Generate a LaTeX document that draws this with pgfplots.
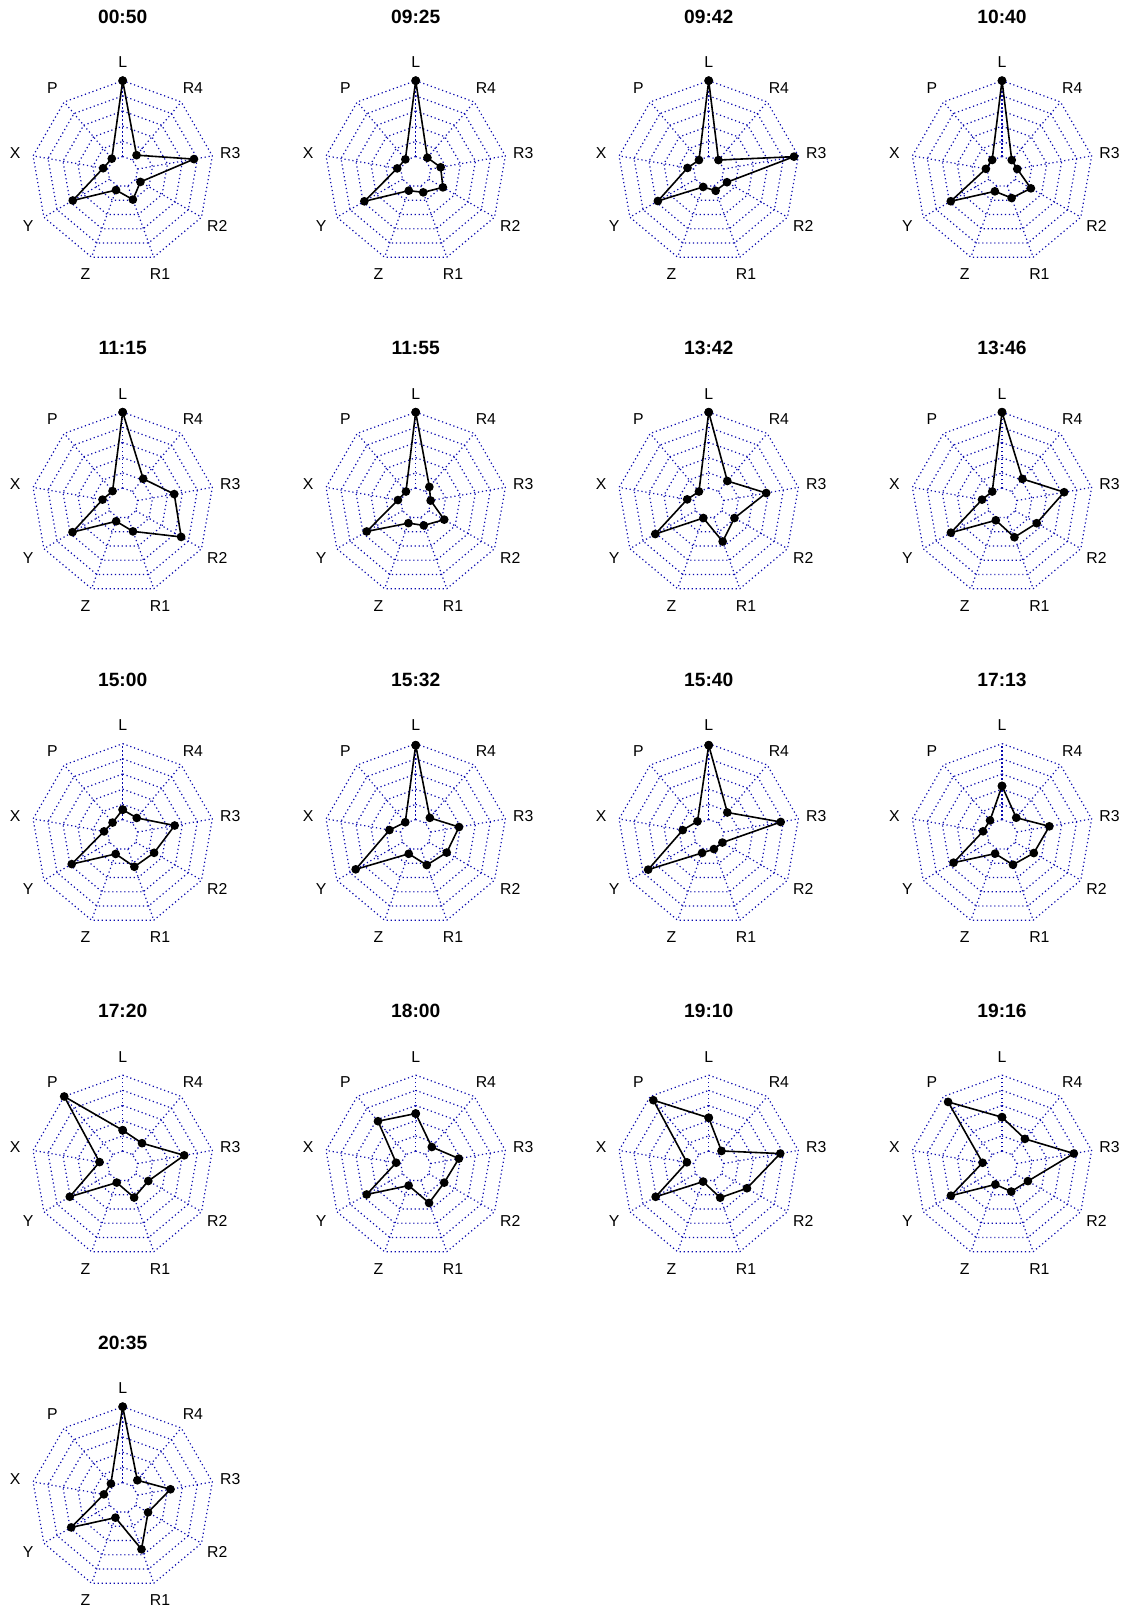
\documentclass[border=0pt]{standalone}
\usepackage{fontspec}
\setmainfont{Liberation Sans}
\usepackage{pgfplots}
\pgfplotsset{compat=1.18}
\definecolor{gridblue}{RGB}{10,10,175}
\pgfplotsset{
  radar/.style={hide axis, x=7.583pt, y=7.583pt, xmin=-8, xmax=8, ymin=-8, ymax=8,
    anchor=center, clip=false},
  gridline/.style={data cs=polar, gridblue, line width=0.6pt, dash pattern=on 0.6pt off 1.4pt, mark=none, forget plot},
  dataline/.style={data cs=polar, black, line width=0.8pt, mark=*, mark size=1.75pt,
    mark options={solid, fill=black, draw=black}},
}
\newcommand{\lbl}{\fontsize{7.9}{9}\selectfont}
\newcommand{\ttl}{\fontsize{9.6}{11}\selectfont\bfseries}
\newcommand{\radarframe}{%
  \pgfplotsinvokeforeach{1,2,3,4,5,6}{%
    \addplot[gridline] coordinates {(90,##1) (50,##1) (10,##1) (-30,##1) (-70,##1) (-110,##1) (-150,##1) (170,##1) (130,##1) (90,##1)};}
  \pgfplotsinvokeforeach{90,50,10,-30,-70,-110,-150,170,130}{%
    \addplot[gridline] coordinates {(##1,1) (##1,6)};}
  \node[font=\lbl] at (axis cs:0,7.2) {L};
  \node[font=\lbl] at (axis cs:4.628,5.516) {R4};
  \node[font=\lbl] at (axis cs:7.091,1.250) {R3};
  \node[font=\lbl] at (axis cs:6.235,-3.6) {R2};
  \node[font=\lbl] at (axis cs:2.463,-6.766) {R1};
  \node[font=\lbl] at (axis cs:-2.463,-6.766) {Z};
  \node[font=\lbl] at (axis cs:-6.235,-3.6) {Y};
  \node[font=\lbl] at (axis cs:-7.091,1.250) {X};
  \node[font=\lbl] at (axis cs:-4.628,5.516) {P};
}
\newcommand{\radar}[4]{%
  \begin{axis}[radar, at={(#1pt,#2pt)}]
    \radarframe
    \node[font=\ttl] at (axis cs:0,10.22) {#3};
    \addplot[dataline] coordinates {#4};
  \end{axis}}
\begin{document}
\begin{tikzpicture}
\path[use as bounding box] (0,0) rectangle (566pt,807.5pt);
% row 1
\radar{61.35}{721.65}{00:50}{(90,6) (50,1.42) (10,4.77) (-30,1.35) (-70,1.96) (-110,1.29) (-150,3.80) (170,1.31) (130,1.12) (90,6)}
\radar{207.85}{721.65}{09:25}{(90,6) (50,1.20) (10,1.67) (-30,2.07) (-70,1.45) (-110,1.33) (-150,3.91) (170,1.24) (130,1.06) (90,6)}
\radar{354.35}{721.65}{09:42}{(90,6) (50,1.00) (10,5.71) (-30,1.39) (-70,1.34) (-110,1.07) (-150,3.87) (170,1.42) (130,1.00) (90,6)}
\radar{501.0}{721.65}{10:40}{(90,6) (50,1.00) (10,1.02) (-30,2.20) (-70,1.85) (-110,1.38) (-150,3.90) (170,1.08) (130,1.01) (90,6)}
% row 2
\radar{61.35}{555.9}{11:15}{(90,6) (50,2.10) (10,3.45) (-30,4.45) (-70,1.98) (-110,1.27) (-150,3.82) (170,1.35) (130,1.04) (90,6)}
\radar{207.85}{555.9}{11:55}{(90,6) (50,1.40) (10,1.00) (-30,2.17) (-70,1.56) (-110,1.40) (-150,3.73) (170,1.19) (130,1.00) (90,6)}
\radar{354.35}{555.9}{13:42}{(90,6) (50,1.91) (10,3.85) (-30,1.96) (-70,2.69) (-110,1.04) (-150,4.07) (170,1.44) (130,1.00) (90,6)}
\radar{501.0}{555.9}{13:46}{(90,6) (50,2.09) (10,4.16) (-30,2.64) (-70,2.39) (-110,1.20) (-150,3.89) (170,1.34) (130,1.00) (90,6)}
% row 3
\radar{61.35}{390.15}{15:00}{(90,1.65) (50,1.44) (10,3.48) (-30,2.39) (-70,2.25) (-110,1.35) (-150,3.88) (170,1.25) (130,1.04) (90,1.65)}
\radar{207.85}{390.15}{15:32}{(90,5.9) (50,1.45) (10,2.90) (-30,2.36) (-70,2.13) (-110,1.34) (-150,4.57) (170,1.76) (130,1.07) (90,5.9)}
\radar{354.35}{390.15}{15:40}{(90,5.9) (50,1.91) (10,4.82) (-30,1.04) (-70,1.01) (-110,1.28) (-150,4.61) (170,1.74) (130,1.15) (90,5.9)}
\radar{501.0}{390.15}{17:13}{(90,3.21) (50,1.46) (10,3.17) (-30,2.42) (-70,2.11) (-110,1.33) (-150,3.69) (170,1.27) (130,1.23) (90,3.21)}
% row 4
\radar{61.35}{224.4}{17:20}{(90,2.37) (50,1.98) (10,4.12) (-30,1.95) (-70,2.20) (-110,1.15) (-150,4.03) (170,1.55) (130,6.00) (90,2.37)}
\radar{207.85}{224.4}{18:00}{(90,3.47) (50,1.65) (10,2.89) (-30,2.17) (-70,2.58) (-110,1.36) (-150,3.73) (170,1.31) (130,3.87) (90,3.47)}
\radar{354.35}{224.4}{19:10}{(90,3.19) (50,1.31) (10,4.79) (-30,2.91) (-70,2.21) (-110,1.08) (-150,4.04) (170,1.46) (130,5.68) (90,3.19)}
\radar{501.0}{224.4}{19:16}{(90,3.23) (50,2.35) (10,4.81) (-30,1.97) (-70,1.78) (-110,1.28) (-150,3.89) (170,1.30) (130,5.53) (90,3.23)}
% row 5
\radar{61.35}{58.65}{20:35}{(90,6) (50,1.50) (10,3.20) (-30,1.93) (-70,3.62) (-110,1.40) (-150,3.92) (170,1.26) (130,1.21) (90,6)}
\end{tikzpicture}
\end{document}
